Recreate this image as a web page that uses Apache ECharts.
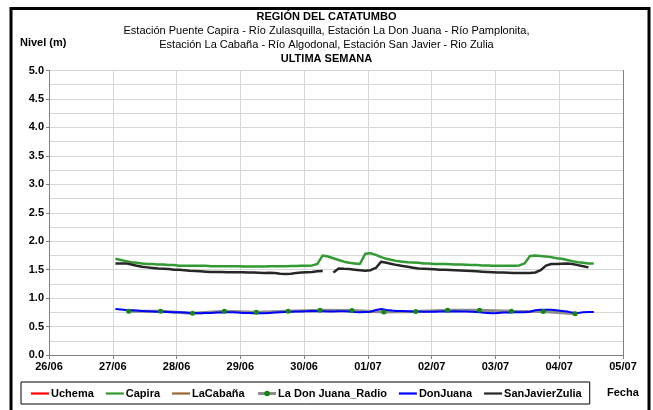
<!DOCTYPE html>
<html>
<head>
<meta charset="utf-8">
<script src="https://cdn.jsdelivr.net/npm/echarts@6/dist/echarts.min.js"></script>
<style>
html, body { margin: 0; padding: 0; background: #fff; }
#chart { width: 653px; height: 410px; }
</style>
</head>
<body>
<div id="chart"></div>
<script>
const FONT = '"Liberation Sans", Arial, Helvetica, sans-serif';

// Date tick labels, one per day from 26/06 to 05/07
const tickLabels = ['26/06', '27/06', '28/06', '29/06', '30/06', '01/07', '02/07', '03/07', '04/07', '05/07'];

// Reading times, hours since 26/06 00:00 (one reading every 2 h)
const hours = [
  25, 27, 29, 31, 33, 35, 37, 39, 41, 43, 45, 47, 49, 51, 53, 55, 57, 59, 61, 63,
  65, 67, 69, 71, 73, 75, 77, 79, 81, 83, 85, 87, 89, 91, 93, 95, 97, 99, 101, 103,
  105, 107, 109, 111, 113, 115, 117, 119, 121, 123, 125, 127, 129, 131, 133, 135, 137, 139, 141, 143,
  145, 147, 149, 151, 153, 155, 157, 159, 161, 163, 165, 167, 169, 171, 173, 175, 177, 179, 181, 183,
  185, 187, 189, 191, 193, 195, 197, 199, 201, 203, 205
];

// Level (m) at Puente Capira - Río Zulasquilla
const capira = [
  1.69, 1.67, 1.65, 1.63, 1.62, 1.61, 1.60, 1.60, 1.59, 1.59, 1.58, 1.58, 1.57, 1.57, 1.57, 1.57, 1.57, 1.57, 1.56, 1.56,
  1.56, 1.56, 1.56, 1.56, 1.555, 1.555, 1.555, 1.555, 1.555, 1.56, 1.56, 1.56, 1.56, 1.565, 1.565, 1.57, 1.57, 1.575, 1.60, 1.75,
  1.73, 1.70, 1.67, 1.64, 1.62, 1.61, 1.60, 1.78, 1.79, 1.76, 1.72, 1.69, 1.67, 1.65, 1.64, 1.63, 1.625, 1.62, 1.61, 1.61,
  1.60, 1.60, 1.60, 1.595, 1.59, 1.59, 1.585, 1.58, 1.58, 1.575, 1.575, 1.57, 1.57, 1.57, 1.57, 1.57, 1.575, 1.61, 1.74, 1.75,
  1.74, 1.73, 1.72, 1.70, 1.69, 1.67, 1.65, 1.63, 1.62, 1.61, 1.61
];

// Level (m) at San Javier - Río Zulia (null = missing reading)
const sanJavierZulia = [
  1.61, 1.61, 1.61, 1.59, 1.57, 1.55, 1.54, 1.53, 1.52, 1.515, 1.51, 1.50, 1.50, 1.49, 1.48, 1.475, 1.47, 1.465, 1.46, 1.46,
  1.46, 1.455, 1.455, 1.455, 1.455, 1.45, 1.45, 1.445, 1.44, 1.445, 1.44, 1.43, 1.425, 1.43, 1.44, 1.45, 1.455, 1.46, 1.47, 1.475,
  null, 1.45, 1.52, 1.515, 1.51, 1.50, 1.49, 1.48, 1.49, 1.53, 1.64, 1.62, 1.60, 1.58, 1.565, 1.55, 1.535, 1.52, 1.515, 1.51,
  1.505, 1.50, 1.50, 1.495, 1.49, 1.485, 1.48, 1.475, 1.47, 1.465, 1.46, 1.455, 1.45, 1.45, 1.445, 1.44, 1.44, 1.44, 1.44, 1.45,
  1.49, 1.57, 1.60, 1.60, 1.605, 1.61, 1.60, 1.58, 1.56, 1.54, null
];

// Level (m) at La Don Juana - Río Pamplonita
const donJuana = [
  0.81, 0.80, 0.79, 0.785, 0.78, 0.775, 0.77, 0.765, 0.76, 0.76, 0.755, 0.75, 0.75, 0.745, 0.74, 0.74, 0.735, 0.74, 0.74, 0.745,
  0.745, 0.75, 0.75, 0.745, 0.74, 0.74, 0.735, 0.735, 0.735, 0.74, 0.745, 0.75, 0.755, 0.76, 0.765, 0.765, 0.77, 0.775, 0.77, 0.77,
  0.765, 0.765, 0.77, 0.77, 0.765, 0.755, 0.75, 0.755, 0.76, 0.79, 0.81, 0.79, 0.78, 0.775, 0.775, 0.77, 0.765, 0.765, 0.76, 0.76,
  0.76, 0.765, 0.765, 0.765, 0.77, 0.765, 0.765, 0.76, 0.755, 0.745, 0.74, 0.735, 0.74, 0.745, 0.745, 0.75, 0.75, 0.75, 0.76, 0.785,
  0.795, 0.795, 0.795, 0.785, 0.775, 0.765, 0.745, 0.74, 0.75, 0.755, 0.755
];

// La Don Juana radio station, readings at 06:00 and 18:00
const radioHours = [30, 42, 54, 66, 78, 90, 102, 114, 126, 138, 150, 162, 174, 186, 198];
const donJuanaRadio = [0.77, 0.77, 0.735, 0.77, 0.75, 0.77, 0.785, 0.78, 0.755, 0.765, 0.785, 0.785, 0.77, 0.765, 0.725];

// Stations without readings this week
const uchema = [];
const laCabana = [];

const pairs = (xs, ys) => ys.map((v, i) => [xs[i], v]);

// Plain line swatch for legend entries without markers
const LINE_ICON = 'path://M0,0H18V2.2H0Z';

const chart = echarts.init(document.getElementById('chart'), null, { renderer: 'canvas' });

const lineSeries = (name, color, width, data, extra) => Object.assign({
  name: name,
  type: 'line',
  data: data,
  symbol: 'none',
  showSymbol: false,
  connectNulls: false,
  animation: false,
  color: color,
  lineStyle: { color: color, width: width },
  itemStyle: { color: color }
}, extra || {});

chart.setOption({
  backgroundColor: '#fff',
  animation: false,
  textStyle: { fontFamily: FONT },
  grid: { left: 49, top: 70.5, right: 30, bottom: 55, outerBoundsMode: 'none', containLabel: false },
  xAxis: {
    type: 'value',
    min: 0,
    max: 216,
    interval: 24,
    axisLine: { show: true, lineStyle: { color: '#808080', width: 1 } },
    axisTick: { show: true, length: 4, lineStyle: { color: '#808080' } },
    axisLabel: {
      color: '#000', fontFamily: FONT, fontWeight: 'bold', fontSize: 11, margin: 6,
      formatter: v => tickLabels[Math.round(v / 24)]
    },
    splitLine: { show: true, lineStyle: { color: '#d6d6d6', width: 1 } }
  },
  yAxis: [{
    type: 'value',
    min: 0,
    max: 5,
    interval: 0.5,
    axisLine: { show: true, lineStyle: { color: '#808080', width: 1 } },
    axisTick: { show: true, length: 3, lineStyle: { color: '#808080' } },
    axisLabel: {
      color: '#000', fontFamily: FONT, fontWeight: 'bold', fontSize: 11, margin: 5,
      formatter: v => v.toFixed(1)
    },
    splitLine: { show: true, lineStyle: { color: '#d6d6d6', width: 1 } },
    minorTick: { show: false, splitNumber: 2 },
    minorSplitLine: { show: true, lineStyle: { color: '#d6d6d6', width: 1 } }
  }, {
    type: 'value',
    position: 'right',
    min: 0,
    max: 5,
    interval: 0.5,
    axisLine: { show: true, lineStyle: { color: '#808080', width: 1 } },
    axisTick: { show: false },
    axisLabel: { show: false },
    splitLine: { show: false }
  }],
  legend: {
    left: 21,
    top: 382,
    orient: 'horizontal',
    borderColor: '#000',
    borderWidth: 1,
    padding: [6, 8, 5, 10],
    itemGap: 12,
    itemWidth: 18,
    itemHeight: 7,
    symbolKeepAspect: true,
    textStyle: { color: '#000', fontFamily: FONT, fontWeight: 'bold', fontSize: 11, padding: [0, 0, 0, -3] },
    data: [
      { name: 'Uchema', icon: LINE_ICON },
      { name: 'Capira', icon: LINE_ICON },
      { name: 'LaCabaña', icon: LINE_ICON },
      {
        name: 'La Don Juana_Radio',
        itemStyle: { color: '#118811' },
        lineStyle: { color: '#8c8c8c', width: 3 }
      },
      { name: 'DonJuana', icon: LINE_ICON },
      { name: 'SanJavierZulia', icon: LINE_ICON }
    ]
  },
  series: [
    lineSeries('Uchema', '#ff0000', 1.5, pairs([], uchema)),
    lineSeries('Capira', '#339933', 2.5, pairs(hours, capira)),
    lineSeries('LaCabaña', '#996633', 2, pairs([], laCabana)),
    lineSeries('La Don Juana_Radio', '#8c8c8c', 3, pairs(radioHours, donJuanaRadio), {
      symbol: 'circle', showSymbol: true, symbolSize: 5,
      itemStyle: { color: '#118811' }
    }),
    lineSeries('DonJuana', '#0000ff', 2, pairs(hours, donJuana)),
    lineSeries('SanJavierZulia', '#262626', 2.5, pairs(hours, sanJavierZulia))
  ],
  graphic: [
    {
      type: 'rect', silent: true,
      shape: { x: 11, y: 8.5, width: 638, height: 420 },
      style: { fill: 'none', stroke: '#000', lineWidth: 3 }
    },
    {
      type: 'text', left: 'center', top: 11, silent: true,
      style: { text: 'REGIÓN DEL CATATUMBO', font: 'bold 11px ' + FONT, fill: '#000' }
    },
    {
      type: 'text', left: 'center', top: 25, silent: true,
      style: { text: 'Estación Puente Capira - Río Zulasquilla, Estación La Don Juana - Río Pamplonita,', font: '11px ' + FONT, fill: '#000' }
    },
    {
      type: 'text', left: 'center', top: 39, silent: true,
      style: { text: 'Estación La Cabaña - Río Algodonal, Estación San Javier - Rio Zulia', font: '11px ' + FONT, fill: '#000' }
    },
    {
      type: 'text', left: 'center', top: 53, silent: true,
      style: { text: 'ULTIMA SEMANA', font: 'bold 11px ' + FONT, fill: '#000' }
    },
    {
      type: 'text', left: 20, top: 37, silent: true,
      style: { text: 'Nivel (m)', font: 'bold 11px ' + FONT, fill: '#000' }
    },
    {
      type: 'text', left: 607, top: 387, silent: true,
      style: { text: 'Fecha', font: 'bold 11px ' + FONT, fill: '#000' }
    }
  ]
});
</script>
</body>
</html>
